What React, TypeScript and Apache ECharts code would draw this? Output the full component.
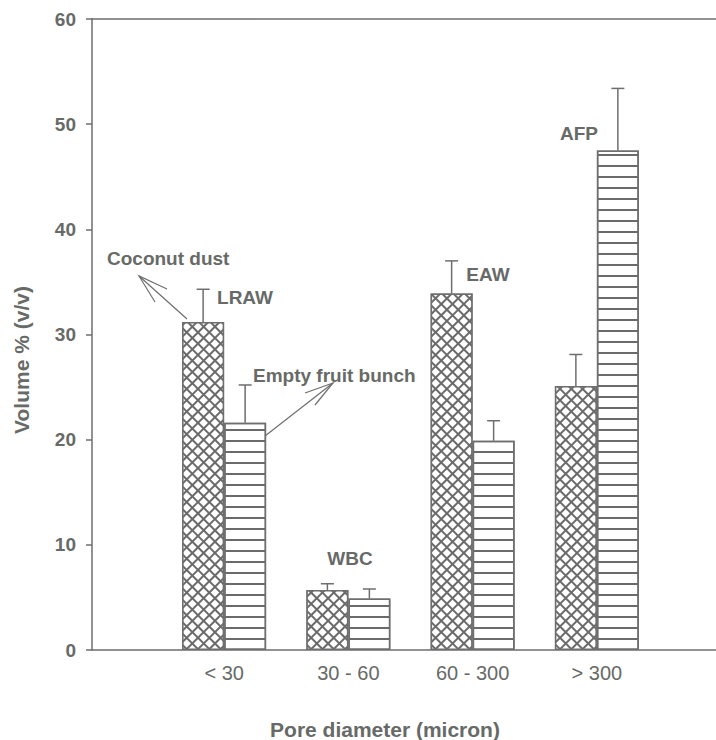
import React, { useEffect, useRef } from "react";
import * as echarts from "echarts";

const categories = ["< 30", "30 - 60", "60 - 300", "> 300"];
const coconutDust = [31.2, 5.7, 33.9, 25.1];
const coconutDustErr = [3.1, 0.6, 3.1, 3.0];
const emptyFruitBunch = [21.6, 4.9, 19.9, 47.5];
const emptyFruitBunchErr = [3.6, 0.9, 1.9, 5.9];
const yTicks = { min: 0, max: 60, interval: 10 };
const groupLabels = [
  { text: "LRAW", x: 245, y: 297 },
  { text: "WBC", x: 350, y: 558 },
  { text: "EAW", x: 488, y: 274 },
  { text: "AFP", x: 579, y: 133 },
];

const FONT = "'Liberation Sans', Arial, Helvetica, sans-serif";
const TEXT_C = "#676a67";
const LINE_C = "#6e6e6e";

function errorRender(offset: number) {
  return (params: any, api: any) => {
    const i = api.value(0);
    const v = api.value(1);
    const e = api.value(2);
    const base = api.coord([i, v]);
    const top = api.coord([i, v + e]);
    const x = base[0] + offset;
    const style = { stroke: LINE_C, lineWidth: 1.5 };
    return {
      type: "group",
      children: [
        { type: "line", shape: { x1: x, y1: base[1], x2: x, y2: top[1] }, style },
        { type: "line", shape: { x1: x - 6.5, y1: top[1], x2: x + 6.5, y2: top[1] }, style },
      ],
    };
  };
}

export default function App() {
  const ref = useRef<HTMLDivElement>(null);
  useEffect(() => {
    if (!ref.current) return;
    const chart = echarts.init(ref.current, undefined, { renderer: "svg" });
    const frameAxis = {
      gridIndex: 0,
      type: "value",
      min: 0,
      max: 1,
      axisLine: { show: true, lineStyle: { color: LINE_C, width: 1.5 } },
      axisTick: { show: false },
      axisLabel: { show: false },
      splitLine: { show: false },
    };
    const option: any = {
      animation: false,
      aria: { enabled: true, decal: { show: true } },
      textStyle: { fontFamily: FONT },
      grid: [
        { left: 92, right: 0, top: 19, bottom: 90 },
        { left: 162, width: 497, top: 19, bottom: 90 },
      ],
      xAxis: [
        { ...frameAxis, position: "bottom" },
        { ...frameAxis, position: "top" },
        {
          gridIndex: 1,
          type: "category",
          data: categories,
          axisLine: { show: false },
          axisTick: { show: false },
          axisLabel: { color: TEXT_C, fontSize: 20, fontFamily: FONT, margin: 13 },
        },
      ],
      yAxis: [
        {
          gridIndex: 0,
          type: "value",
          min: yTicks.min,
          max: yTicks.max,
          interval: yTicks.interval,
          axisLine: { show: true, lineStyle: { color: LINE_C, width: 1.5 } },
          axisTick: { show: true, length: 6, lineStyle: { color: LINE_C, width: 1.5 } },
          axisLabel: { color: TEXT_C, fontSize: 19, fontWeight: "bold", fontFamily: FONT, margin: 16 },
          splitLine: { show: false },
        },
        { gridIndex: 1, type: "value", min: yTicks.min, max: yTicks.max, show: false },
      ],
      series: [
        {
          name: "Coconut dust",
          type: "bar",
          xAxisIndex: 2,
          yAxisIndex: 1,
          barWidth: 42,
          barGap: "0%",
          data: coconutDust,
          itemStyle: {
            color: "#6a6a6a",
            borderColor: LINE_C,
            borderWidth: 1.5,
            decal: {
              symbol: "rect",
              symbolSize: 1,
              color: "#ffffff",
              dashArrayX: [6, 1.3],
              dashArrayY: [6, 1.3],
              rotation: Math.PI / 4,
            },
          },
        },
        {
          name: "Empty fruit bunch",
          type: "bar",
          xAxisIndex: 2,
          yAxisIndex: 1,
          barWidth: 42,
          barGap: "0%",
          data: emptyFruitBunch,
          itemStyle: {
            color: "#ffffff",
            borderColor: LINE_C,
            borderWidth: 1.5,
            decal: {
              symbol: "rect",
              symbolSize: 1,
              color: "#6a6a6a",
              dashArrayX: [200, 0],
              dashArrayY: [1.3, 8.7],
              rotation: 0,
            },
          },
        },
        {
          type: "custom",
          xAxisIndex: 2,
          yAxisIndex: 1,
          encode: { x: 0, y: 1 },
          z: 5,
          itemStyle: { decal: "none" },
          renderItem: errorRender(-21),
          data: categories.map((_, i) => [i, coconutDust[i], coconutDustErr[i]]),
        },
        {
          type: "custom",
          xAxisIndex: 2,
          yAxisIndex: 1,
          encode: { x: 0, y: 1 },
          z: 5,
          itemStyle: { decal: "none" },
          renderItem: errorRender(21),
          data: categories.map((_, i) => [i, emptyFruitBunch[i], emptyFruitBunchErr[i]]),
        },
      ],
      graphic: [
        ...groupLabels.map((g) => ({
          type: "text",
          x: g.x,
          y: g.y,
          style: {
            text: g.text,
            fill: TEXT_C,
            font: `bold 19px ${FONT}`,
            textAlign: "center",
            textVerticalAlign: "middle",
          },
        })),
        {
          type: "text",
          x: 107,
          y: 258,
          style: { text: "Coconut dust", fill: TEXT_C, font: `bold 19px ${FONT}`, textAlign: "left", textVerticalAlign: "middle" },
        },
        {
          type: "text",
          x: 253,
          y: 375,
          style: { text: "Empty fruit bunch", fill: TEXT_C, font: `bold 19px ${FONT}`, textAlign: "left", textVerticalAlign: "middle" },
        },
        {
          type: "polyline",
          shape: { points: [[187, 319], [139, 276]] },
          style: { stroke: LINE_C, lineWidth: 1.2, fill: "none" },
        },
        {
          type: "polyline",
          shape: { points: [[167, 289], [139, 276], [155, 302]] },
          style: { stroke: LINE_C, lineWidth: 1.2, fill: "none" },
        },
        {
          type: "polyline",
          shape: { points: [[265, 436], [333, 383]] },
          style: { stroke: LINE_C, lineWidth: 1.2, fill: "none" },
        },
        {
          type: "polyline",
          shape: { points: [[305, 393], [333, 383], [315, 405]] },
          style: { stroke: LINE_C, lineWidth: 1.2, fill: "none" },
        },
        {
          type: "text",
          x: 21,
          y: 360,
          rotation: Math.PI / 2,
          style: { text: "Volume % (v/v)", fill: TEXT_C, font: `bold 21px ${FONT}`, textAlign: "center", textVerticalAlign: "middle" },
        },
        {
          type: "text",
          x: 385,
          y: 729,
          style: { text: "Pore diameter (micron)", fill: TEXT_C, font: `bold 21px ${FONT}`, textAlign: "center", textVerticalAlign: "middle" },
        },
      ],
    };
    chart.setOption(option);
    return () => chart.dispose();
  }, []);
  return (
    <div
      ref={ref}
      style={{ position: "absolute", left: 0, top: 0, width: 716, height: 740 }}
    />
  );
}
